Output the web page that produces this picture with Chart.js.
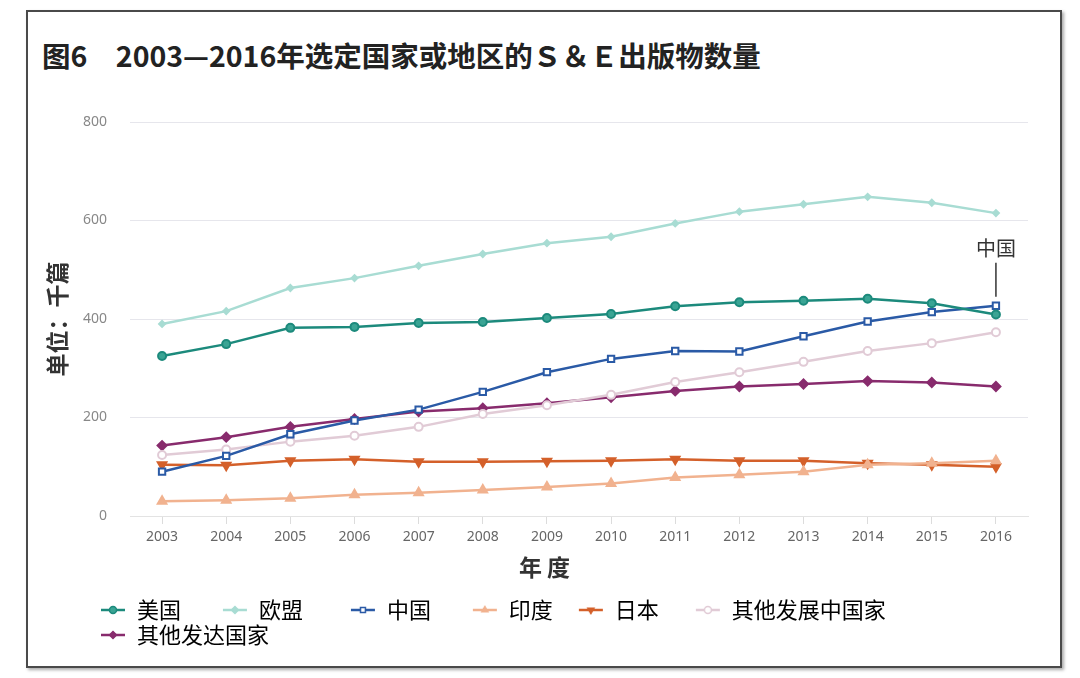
<!DOCTYPE html>
<html>
<head>
<meta charset="utf-8">
<script src="https://cdn.jsdelivr.net/npm/chart.js@4.4.1/dist/chart.umd.min.js"></script>
<style>
  body { margin: 0; background: #fff; }
  #frame { position: absolute; left: 26px; top: 10px; width: 1036px; height: 658px; box-sizing: border-box;
           border: 2px solid #4a4a4a; box-shadow: 2px 2px 3px #aaa; }
  #title { position: absolute; left: 42px; top: 34px; font: bold 28.5px "Noto Sans CJK SC"; color: #222; white-space: nowrap; }
  #myChart { position: absolute; left: 0; top: 0; }
</style>
</head>
<body>
<div id="frame"></div>
<div id="title">图6　2003—2016年选定国家或地区的Ｓ＆Ｅ出版物数量</div>
<canvas id="myChart" width="1080" height="678"></canvas>
<script>
const years = ['2003', '2004', '2005', '2006', '2007', '2008', '2009', '2010', '2011', '2012', '2013', '2014', '2015', '2016'];
const usa       = [325, 349, 382, 384, 392, 394, 402, 410, 426, 434, 437, 441, 432, 409];
const eu        = [390, 416, 463, 483, 508, 532, 554, 567, 594, 618, 633, 648, 636, 615];
const china     = [90, 122, 166, 194, 216, 252, 292, 319, 335, 334, 365, 395, 414, 427];
const india     = [30, 32, 36, 43, 47, 53, 59, 66, 78, 84, 90, 104, 107, 112];
const japan     = [104, 103, 112, 115, 110, 110, 111, 112, 115, 112, 112, 107, 104, 100];
const otherDev  = [124, 135, 151, 163, 181, 207, 225, 246, 272, 292, 313, 335, 351, 373];
const otherAdv  = [143, 160, 181, 197, 212, 219, 229, 241, 254, 263, 268, 274, 271, 263];
const yTicks = [0, 200, 400, 600, 800];

const cjk = '"Noto Sans CJK SC", "Noto Sans", sans-serif';
// spacing after each legend entry, to spread the row like the original
// (the long gap after the 6th entry pushes the last one onto a second row)
const legendGaps = ['\u3000\u2002 ', '\u3000\u3000', '\u3000\u2002 ', '\u3000', '\u3000\u2002', '\u3000\u3000\u3000\u3000', ''];

function series(label, data, color, style, radius, fill, rotation) {
  return {
    label: label,
    data: data,
    borderColor: color,
    backgroundColor: fill || color,
    borderWidth: 2.5,
    pointStyle: style,
    pointRadius: radius,
    pointRotation: rotation || 0,
    pointBorderWidth: 2,
    pointBackgroundColor: fill || color,
    tension: 0
  };
}

// little "line + marker" pictures for the legend
function legendIcon(ds) {
  const c = document.createElement('canvas');
  c.width = 26; c.height = 14;
  const g = c.getContext('2d');
  g.strokeStyle = ds.borderColor;
  g.lineWidth = 2.5;
  g.beginPath(); g.moveTo(1, 7); g.lineTo(25, 7); g.stroke();
  g.fillStyle = ds.pointBackgroundColor;
  g.lineWidth = 1.5;
  Chart.helpers.drawPoint(g, {pointStyle: ds.pointStyle, radius: 3.5, rotation: ds.pointRotation, borderWidth: 1.5}, 13, 7);
  return c;
}

const chinaLabel = {
  id: 'chinaLabel',
  afterDatasetsDraw(chart) {
    const meta = chart.getDatasetMeta(2);
    const pt = meta.data[meta.data.length - 1];
    const c = chart.ctx;
    c.save();
    c.strokeStyle = '#333';
    c.lineWidth = 1.5;
    c.beginPath(); c.moveTo(pt.x, pt.y - 9); c.lineTo(pt.x, pt.y - 43); c.stroke();
    c.font = '20px ' + cjk;
    c.fillStyle = '#333';
    c.textAlign = 'center';
    c.textBaseline = 'middle';
    c.fillText('中国', pt.x, pt.y - 57);
    c.restore();
  }
};

// the legend in the original starts under the tick labels, not at the frame edge
const legendIndent = {
  id: 'legendIndent',
  afterLayout(chart) {
    chart.legend.left = 97;
  }
};

const ctx = document.getElementById('myChart');
const myChart = new Chart(ctx, {
  type: 'line',
  data: {
    labels: years,
    datasets: [
      series('美国', usa, '#1c8a7c', 'circle', 4, '#3aa494'),
      series('欧盟', eu, '#a8dcd3', 'rectRot', 3),
      series('中国', china, '#2a5aa6', 'rect', 4.5, '#ffffff'),
      series('印度', india, '#f1b28f', 'triangle', 5),
      series('日本', japan, '#d4602a', 'triangle', 5, null, 180),
      series('其他发展中国家', otherDev, '#e1cbd6', 'circle', 4, '#ffffff'),
      series('其他发达国家', otherAdv, '#882b6d', 'rectRot', 4.5)
    ]
  },
  options: {
    responsive: false,
    animation: false,
    layout: { padding: { left: 25, right: 52, top: 122, bottom: 22 } },
    plugins: {
      tooltip: { enabled: false },
      legend: {
        position: 'bottom',
        align: 'start',
        labels: {
          usePointStyle: true,
          pointStyleWidth: 26,
          padding: 3,
          color: '#222',
          font: { family: cjk, size: 22 },
          generateLabels(chart) {
            return chart.data.datasets.map((ds, i) => ({
              text: ds.label + legendGaps[i],
              fillStyle: ds.borderColor,
              strokeStyle: ds.borderColor,
              lineWidth: 0,
              pointStyle: legendIcon(ds),
              hidden: false,
              datasetIndex: i
            }));
          }
        }
      }
    },
    scales: {
      x: {
        offset: true,
        afterFit(scale) { scale.height = 80; },
        grid: { offset: false, drawOnChartArea: false, drawTicks: true, tickLength: 8, color: '#dcdcdc' },
        border: { color: '#e3e3e3' },
        ticks: { padding: 5, color: '#666', font: { family: '"Noto Sans"', size: 14 }, maxRotation: 0 },
        title: {
          display: true,
          text: '年 度\u3000\u3000\u3000',
          color: '#333',
          font: { family: cjk, size: 23, weight: 'bold' },
          padding: { top: 0, bottom: 15 }
        }
      },
      y: {
        min: 0,
        max: 800,
        afterFit(scale) { scale.width = 105; },
        afterBuildTicks(scale) { scale.ticks = yTicks.map(v => ({ value: v })); },
        grid: { color: '#e6e6ec', drawTicks: false },
        border: { display: false },
        ticks: { padding: 23, color: '#888', font: { family: '"Noto Sans"', size: 14 } },
        title: {
          display: true,
          text: '单位：千篇',
          color: '#333',
          font: { family: cjk, size: 23, weight: 'bold' },
          padding: { top: 18, bottom: 0 }
        }
      }
    }
  },
  plugins: [chinaLabel, legendIndent]
});
</script>
</body>
</html>
